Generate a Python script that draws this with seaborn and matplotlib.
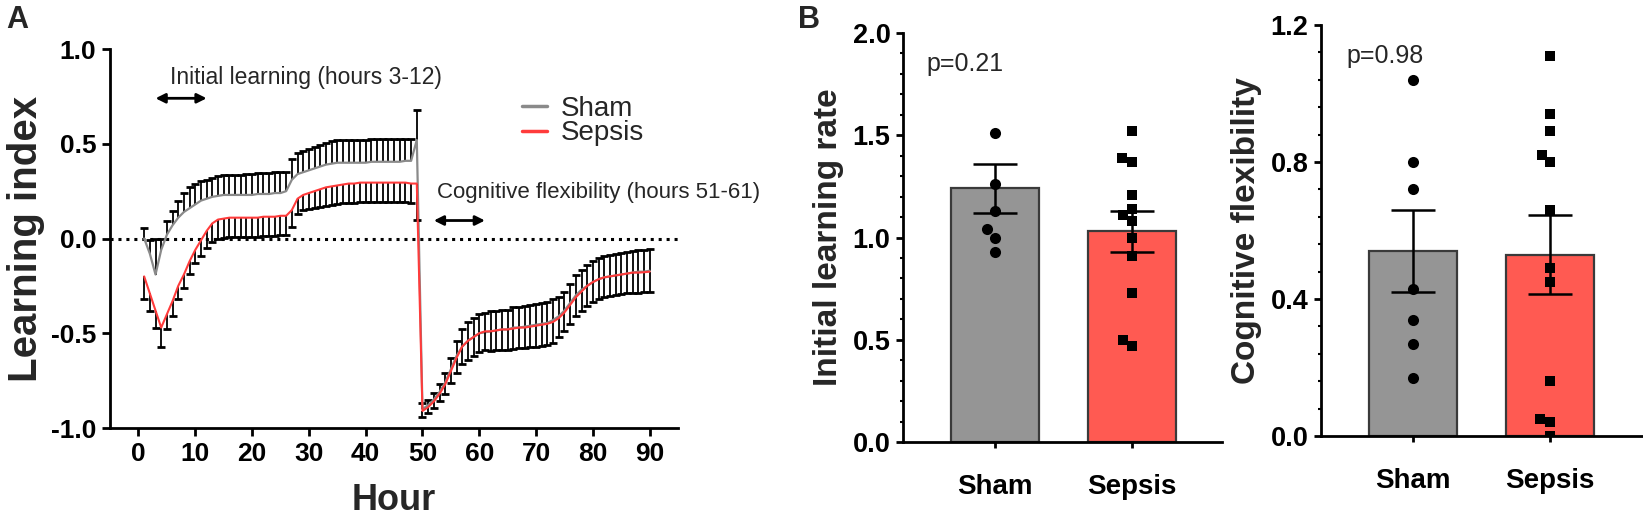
import numpy as np
import pandas as pd
import matplotlib
matplotlib.use("Agg")
import matplotlib.pyplot as plt
from matplotlib.ticker import AutoMinorLocator, MultipleLocator
import seaborn as sns

# ---- panel A: hourly learning index (mean, SEM) ----
hours = list(range(1, 91))

sham_mean = [0.00, -0.08, -0.19, -0.06, 0.02, 0.07, 0.11, 0.14, 0.16, 0.18,
             0.20, 0.21, 0.22, 0.225, 0.23, 0.23, 0.23, 0.23, 0.23, 0.23,
             0.235, 0.235, 0.235, 0.24, 0.24, 0.25, 0.31, 0.34, 0.35, 0.36,
             0.37, 0.38, 0.39, 0.395, 0.40, 0.40, 0.40, 0.40, 0.40, 0.40,
             0.405, 0.405, 0.405, 0.405, 0.405, 0.405, 0.41, 0.41, 0.52,
             -0.90, -0.88, -0.85, -0.81, -0.76, -0.69, -0.62, -0.57, -0.54, -0.52,
             -0.50, -0.495, -0.49, -0.485, -0.48, -0.48, -0.47, -0.47, -0.465, -0.46,
             -0.455, -0.45, -0.445, -0.43, -0.41, -0.38, -0.34, -0.30, -0.27, -0.25,
             -0.23, -0.215, -0.205, -0.20, -0.195, -0.19, -0.185, -0.18, -0.175, -0.175, -0.17]
sham_sem = [0.055, 0.07, 0.19, 0.06, 0.075, 0.075, 0.09, 0.10, 0.11, 0.11,
            0.105, 0.10, 0.10, 0.105, 0.105, 0.105, 0.105, 0.105, 0.11, 0.11,
            0.11, 0.11, 0.11, 0.11, 0.11, 0.10, 0.11, 0.11, 0.11, 0.11,
            0.115, 0.115, 0.115, 0.12, 0.12, 0.12, 0.12, 0.12, 0.12, 0.12,
            0.12, 0.12, 0.12, 0.12, 0.12, 0.12, 0.115, 0.115, 0.16,
            0.03, 0.03, 0.035, 0.04, 0.05, 0.06, 0.08, 0.09, 0.10, 0.10,
            0.10, 0.10, 0.105, 0.105, 0.105, 0.105, 0.11, 0.11, 0.11, 0.11,
            0.11, 0.11, 0.11, 0.11, 0.10, 0.10, 0.10, 0.105, 0.105, 0.11,
            0.11, 0.11, 0.115, 0.115, 0.115, 0.115, 0.115, 0.115, 0.115, 0.115, 0.115]

sepsis_mean = [-0.20, -0.29, -0.38, -0.47, -0.40, -0.33, -0.25, -0.19, -0.12, -0.06,
               -0.01, 0.04, 0.08, 0.10, 0.105, 0.11, 0.11, 0.11, 0.11, 0.11,
               0.11, 0.115, 0.115, 0.115, 0.12, 0.12, 0.15, 0.21, 0.23, 0.24,
               0.25, 0.26, 0.27, 0.275, 0.28, 0.285, 0.29, 0.29, 0.295, 0.295,
               0.295, 0.295, 0.295, 0.295, 0.295, 0.295, 0.295, 0.29, 0.29,
               -0.91, -0.89, -0.86, -0.82, -0.77, -0.70, -0.63, -0.57, -0.54, -0.52,
               -0.50, -0.49, -0.49, -0.485, -0.48, -0.48, -0.475, -0.47, -0.47, -0.465,
               -0.46, -0.455, -0.45, -0.44, -0.42, -0.39, -0.35, -0.31, -0.28, -0.25,
               -0.23, -0.215, -0.205, -0.20, -0.195, -0.19, -0.185, -0.18, -0.18, -0.178, -0.175]
sepsis_sem = [0.12, 0.09, 0.09, 0.10, 0.08, 0.08, 0.07, 0.07, 0.065, 0.07,
              0.08, 0.09, 0.10, 0.10, 0.10, 0.10, 0.10, 0.10, 0.10, 0.10,
              0.10, 0.10, 0.10, 0.10, 0.10, 0.10, 0.09, 0.08, 0.08, 0.085,
              0.09, 0.095, 0.10, 0.10, 0.10, 0.10, 0.10, 0.10, 0.10, 0.10,
              0.10, 0.10, 0.10, 0.10, 0.10, 0.10, 0.10, 0.10, 0.19,
              0.03, 0.03, 0.035, 0.04, 0.05, 0.06, 0.08, 0.09, 0.10, 0.10,
              0.10, 0.10, 0.105, 0.105, 0.11, 0.11, 0.11, 0.11, 0.11, 0.11,
              0.11, 0.11, 0.11, 0.11, 0.10, 0.10, 0.10, 0.10, 0.105, 0.105,
              0.105, 0.105, 0.105, 0.105, 0.105, 0.105, 0.105, 0.105, 0.105, 0.105, 0.105]

# ---- panel B: per-animal values, bar means and SEM ----
groups = ["Sham", "Sepsis"]
learn_bar = [1.24, 1.03]
learn_sem = [0.12, 0.10]
learn_sham_pts = [1.51, 1.26, 1.13, 1.04, 1.00, 0.93]
learn_sepsis_pts = [1.52, 1.39, 1.37, 1.21, 1.14, 1.11, 1.08, 1.00, 0.91, 0.73, 0.50, 0.47]
flex_bar = [0.54, 0.53]
flex_sem = [0.12, 0.115]
flex_sham_pts = [1.04, 0.80, 0.72, 0.43, 0.34, 0.27, 0.17]
flex_sepsis_pts = [1.11, 0.94, 0.89, 0.82, 0.80, 0.66, 0.49, 0.45, 0.16, 0.05, 0.04, 0.0]

colors = {"Sham": "#959595", "Sepsis": "#ff5a52"}

sns.set_style("ticks")
plt.rcParams["font.family"] = ["Liberation Sans", "DejaVu Sans"]
plt.rcParams["axes.linewidth"] = 2
plt.rcParams["xtick.major.width"] = 2
plt.rcParams["ytick.major.width"] = 2
plt.rcParams["axes.edgecolor"] = "black"
plt.rcParams["xtick.color"] = "black"
plt.rcParams["ytick.color"] = "black"

fig = plt.figure(figsize=(16.43, 5.21), dpi=100)


def half_bars(ax, x, mean, sem, sign):
    ends = [m + sign * s for m, s in zip(mean, sem)]
    ax.vlines(x, mean, ends, color="black", lw=1.3)
    ax.plot(x, ends, ls="none", marker="_", ms=5.5, mew=2, color="black")


# ---------------- panel A ----------------
axA = fig.add_axes([0.0670, 0.1785, 0.3457, 0.7274])
df = pd.DataFrame({
    "Hour": hours * 2,
    "Index": sham_mean + sepsis_mean,
    "Group": ["Sham"] * len(hours) + ["Sepsis"] * len(hours),
})
axA.axhline(0, color="black", lw=2.2, ls=(0, (1, 1.6)))
half_bars(axA, hours, sham_mean, sham_sem, 1)
sns.lineplot(data=df[df.Group == "Sham"], x="Hour", y="Index", color="#8a8a8a",
             lw=1.6, errorbar=None, ax=axA, label="Sham")
half_bars(axA, hours, sepsis_mean, sepsis_sem, -1)
sns.lineplot(data=df[df.Group == "Sepsis"], x="Hour", y="Index", color="#ff3b3b",
             lw=1.5, errorbar=None, ax=axA, label="Sepsis")

axA.set_xlim(-5, 95)
axA.set_ylim(-1.0, 1.0)
axA.yaxis.set_major_locator(MultipleLocator(0.5))
axA.yaxis.set_major_formatter(matplotlib.ticker.FormatStrFormatter("%.1f"))
axA.set_xticks(range(0, 91, 10))
axA.tick_params(length=6, labelsize=19, pad=4)
for lab in axA.get_xticklabels() + axA.get_yticklabels():
    lab.set_fontweight("bold")
sns.despine(ax=axA)
axA.set_xlabel("Hour", fontsize=26, fontweight="bold", labelpad=12)
axA.set_ylabel("Learning index", fontsize=29, fontweight="bold", labelpad=4)

leg = axA.legend(loc="center left", bbox_to_anchor=(0.725, 0.81), frameon=False,
                 fontsize=20, handlelength=0.9, handletextpad=0.5,
                 labelspacing=-0.05, borderpad=0, borderaxespad=0)
for h in leg.get_lines():
    h.set_linewidth(2.5)

axA.text(5.6, 0.85, "Initial learning (hours 3-12)", fontsize=16.5, va="center")
axA.annotate("", xy=(3, 0.74), xytext=(12, 0.74),
             arrowprops=dict(arrowstyle="<|-|>", color="black", lw=2, mutation_scale=14,
                             shrinkA=0, shrinkB=0))
axA.text(52.5, 0.243, "Cognitive flexibility (hours 51-61)", fontsize=16, va="center",
         clip_on=False)
axA.annotate("", xy=(52, 0.095), xytext=(61, 0.095),
             arrowprops=dict(arrowstyle="<|-|>", color="black", lw=2, mutation_scale=14,
                             shrinkA=0, shrinkB=0))


# ---------------- panel B ----------------
def bar_panel(rect, bars, sems, sham_pts, sepsis_pts, ylim, major, ylabel, ptext, pxy, xlim):
    ax = fig.add_axes(rect)
    sns.barplot(x=groups, y=bars, hue=groups, palette=colors, order=groups, saturation=1,
                width=0.645, edgecolor="#3a3a3a", linewidth=1.6, legend=False, ax=ax)
    sns.swarmplot(x=["Sham"] * len(sham_pts), y=sham_pts, order=groups, marker="o",
                  color="black", size=8, ax=ax)
    sns.swarmplot(x=["Sepsis"] * len(sepsis_pts), y=sepsis_pts, order=groups, marker="s",
                  color="black", size=7.5, ax=ax)
    ax.errorbar([0, 1], bars, yerr=sems, fmt="none", ecolor="black", elinewidth=1.8,
                capsize=16, capthick=1.8)
    ax.set_ylim(*ylim)
    ax.set_xlim(*xlim)
    ax.yaxis.set_major_locator(MultipleLocator(major))
    ax.yaxis.set_minor_locator(AutoMinorLocator(5))
    ax.yaxis.set_major_formatter(matplotlib.ticker.FormatStrFormatter("%.1f"))
    ax.tick_params(axis="y", which="major", length=5, labelsize=19.5, pad=4)
    ax.tick_params(axis="y", which="minor", length=2.5, width=1.5)
    ax.tick_params(axis="x", length=4, labelsize=20, pad=19)
    for lab in ax.get_xticklabels() + ax.get_yticklabels():
        lab.set_fontweight("bold")
    sns.despine(ax=ax)
    ax.set_xlabel("")
    ax.set_ylabel(ylabel, fontsize=24, fontweight="bold", labelpad=6)
    ax.text(pxy[0], pxy[1], ptext, fontsize=18, va="center")
    return ax


bar_panel([0.5496, 0.1516, 0.1942, 0.785], learn_bar, learn_sem, learn_sham_pts,
          learn_sepsis_pts, (0, 2.0), 0.5, "Initial learning rate", "p=0.21",
          (-0.5, 1.85), (-0.67, 1.66))
bar_panel([0.804, 0.163, 0.196, 0.789], flex_bar, flex_sem, flex_sham_pts,
          flex_sepsis_pts, (0, 1.2), 0.4, "Cognitive flexibility", "p=0.98",
          (-0.485, 1.11), (-0.675, 1.68))

fig.text(0.004, 0.99, "A", fontsize=22, fontweight="bold", va="top")
fig.text(0.486, 0.99, "B", fontsize=22, fontweight="bold", va="top")

fig.savefig("out.png", dpi=100)
